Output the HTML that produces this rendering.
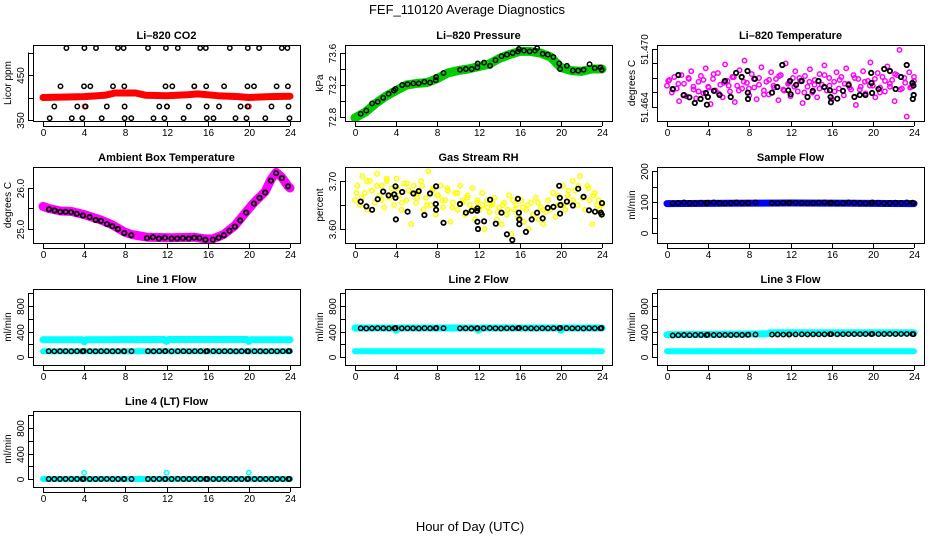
<!DOCTYPE html>
<html><head><meta charset="utf-8"><style>
html,body{margin:0;padding:0;background:#fff;}
svg{display:block;font-family:"Liberation Sans",sans-serif;}
</style></head><body>
<svg id="fig" width="936" height="540" viewBox="0 0 936 540">
<text x="467" y="14" font-size="13" text-anchor="middle">FEF_110120  Average Diagnostics</text>
<text x="470" y="531" font-size="13" text-anchor="middle">Hour of Day (UTC)</text>
</svg>
<script>
// ---------- data ----------
const hourTicks = [0,4,8,12,16,20,24];
const blkTimes = [0.55,1.1,1.65,2.2,2.75,3.3,3.85,3.95,4.55,5.1,5.65,6.2,6.75,7.3,7.85,7.9,8.6,10.2,10.75,11.3,11.85,11.9,12.5,13.1,13.65,14.2,14.75,15.3,15.85,15.95,16.55,17.1,17.65,18.2,18.75,19.3,19.85,19.95,20.55,21.1,21.65,22.2,22.75,23.3,23.85,23.95];

// CO2
const co2BandT = [0,4,6,7,9,10,12,14,15,17,19,20,22,24];
const co2BandV = [400,402,405,410,410,405,404,406,408,404,402,400,402,403];
const co2BlkT = [2.27,4.02,5.15,7.28,7.83,10.2,11.94,13.1,15.27,15.82,18.15,19.9,21.0,23.2,23.75,
 1.7,3.98,4.6,6.8,7.9,11.9,12.56,14.7,15.86,17.6,19.87,20.5,22.7,23.8,
 1.1,3.33,4.14,6.2,7.93,11.3,12.04,14.17,15.9,17.1,19.2,19.87,22.2,23.85,
 0.65,2.8,3.82,5.7,7.93,8.58,10.74,11.8,13.66,15.92,16.57,18.7,19.77,21.6,23.95];
const co2BlkV = [510,510,510,510,510,510,510,510,510,510,510,510,510,510,510,
 425,425,425,425,425,425,425,425,425,425,425,425,425,425,
 380,380,380,380,380,380,380,380,380,380,380,380,380,380,
 354,354,354,354,354,354,354,354,354,354,354,354,354,354,354];
const co2RedT = [4.05,12.05,20.0,14.7];
const co2RedV = [380,380,380,425];

// Pressure
const presBandT = [0,1,2,3,4,5,6,7,8,9,10,11,12,13,14,15,16,17,18,19,20,21,22,23,24];
const presBandV = [72.79,72.86,72.97,73.06,73.13,73.2,73.22,73.23,73.28,73.35,73.38,73.4,73.43,73.46,73.53,73.58,73.62,73.62,73.6,73.55,73.42,73.38,73.37,73.4,73.4];
const presBlkT = [0.55,1.11,1.66,2.21,2.74,3.26,3.78,3.94,4.59,5.11,5.67,6.19,6.74,7.30,7.85,7.88,8.60,10.2,10.78,11.34,11.89,11.92,12.54,13.13,13.65,14.23,14.76,15.31,15.83,15.93,16.42,16.97,17.49,17.69,18.24,18.73,19.28,19.84,19.93,20.59,21.17,21.69,22.21,22.80,23.29,23.84,23.97];
const presBlkV = [72.84,72.88,72.97,72.99,73.04,73.09,73.13,73.15,73.20,73.21,73.22,73.22,73.24,73.23,73.26,73.30,73.35,73.39,73.40,73.40,73.42,73.47,73.48,73.44,73.51,73.56,73.58,73.60,73.62,73.65,73.63,73.62,73.63,73.66,73.59,73.58,73.55,73.47,73.40,73.44,73.38,73.38,73.39,73.46,73.41,73.42,73.39];

// Li-820 temperature
const tempMag = [51.4662,51.4668,51.4655,51.4671,51.4659,51.4646,51.4673,51.4664,51.4651,51.4669,51.4677,51.4658,51.4649,51.4666,51.4672,51.4654,51.4680,51.4661,51.4643,51.4669,51.4657,51.4675,51.4663,51.4650,51.4684,51.4667,51.4656,51.4671,51.4645,51.4662,51.4678,51.4659,51.4688,51.4665,51.4652,51.4674,51.4660,51.4648,51.4670,51.4681,51.4657,51.4666,51.4653,51.4676,51.4662,51.4669,51.4647,51.4673,51.4658,51.4685,51.4664,51.4651,51.4670,51.4677,51.4656,51.4667,51.4644,51.4672,51.4661,51.4679,51.4655,51.4668,51.4650,51.4674,51.4663,51.4683,51.4657,51.4670,51.4648,51.4666,51.4676,51.4659,51.4671,51.4652,51.4680,51.4664,51.4658,51.4673,51.4642,51.4669,51.4661,51.4677,51.4654,51.4667,51.4686,51.4662,51.4650,51.4675,51.4660,51.4671,51.4656,51.4682,51.4664,51.4668,51.4646,51.4673,51.4699,51.4659,51.4670,51.4630,51.4676,51.4661,51.4667];
const tempMag2 = [51.4667,51.4658,51.4664,51.4652,51.4670,51.4661,51.4656,51.4668,51.4660,51.4674,51.4654,51.4665,51.4662,51.4671,51.4657,51.4666,51.4659,51.4669,51.4663,51.4653,51.4668,51.4660,51.4672,51.4657,51.4665,51.4661,51.4670,51.4655,51.4666,51.4663,51.4659,51.4673,51.4662,51.4656,51.4668,51.4664,51.4660,51.4670,51.4658,51.4666,51.4662,51.4669,51.4655,51.4667,51.4661,51.4674,51.4658,51.4665,51.4660,51.4671];
const tempBlkT = [0.55,1.11,1.63,2.18,2.70,3.26,3.78,3.88,3.97,4.56,5.11,5.63,6.19,6.71,7.26,7.82,7.85,7.87,8.53,10.2,10.72,11.2,11.79,11.95,12.02,12.54,13.09,13.65,14.17,14.72,15.28,15.83,15.9,15.93,16.55,17.1,17.65,18.21,18.73,19.28,19.84,19.87,19.93,20.55,21.1,21.66,22.21,22.74,23.29,23.84,23.88,23.97,23.94];
const tempBlkV = [51.46586,51.46731,51.46524,51.46500,51.46441,51.46483,51.46545,51.46424,51.46503,51.46566,51.46524,51.46669,51.46503,51.46752,51.46710,51.46772,51.46548,51.46483,51.46690,51.46548,51.46607,51.46834,51.46572,51.46669,51.46531,51.46628,51.46669,51.46503,51.46566,51.46669,51.46607,51.46572,51.46503,51.46448,51.46486,51.46566,51.46628,51.46503,51.46524,51.46524,51.46752,51.46648,51.46545,51.46586,51.46793,51.46772,51.46586,51.46710,51.46834,51.46648,51.46483,51.46524,51.46621];

// Ambient box temperature
const ambBandT = [0,0.58,1.68,2.72,3.88,4.53,5.63,6.73,7.9,8.58,10.1,12.49,14.69,15.79,16.5,17.57,18.64,19.74,20.49,21.59,22.14,22.65,23.2,23.82,24];
const ambBandV = [25.55,25.5,25.44,25.43,25.36,25.31,25.22,25.1,24.93,24.87,24.8,24.79,24.8,24.76,24.76,24.87,25.08,25.42,25.64,25.91,26.2,26.38,26.26,26.04,26.0];
const ambBlkT = [0.58,1.13,1.68,2.2,2.72,3.27,3.88,4.53,5.11,5.63,6.21,6.73,7.28,7.9,8.58,10.1,10.68,11.26,11.84,12.49,13.04,13.59,14.17,14.69,15.21,15.79,16.5,17.06,17.57,18.12,18.64,19.16,19.74,20.49,21.04,21.59,22.14,22.65,23.2,23.82];
const ambBlkV = [25.48,25.45,25.42,25.42,25.41,25.37,25.33,25.29,25.22,25.2,25.12,25.07,25.0,24.9,24.85,24.78,24.8,24.77,24.79,24.77,24.77,24.78,24.77,24.79,24.78,24.74,24.74,24.79,24.85,24.96,25.06,25.21,25.4,25.62,25.76,25.89,26.18,26.36,26.24,26.04];

// Gas stream RH
const rhYel = [3.660,3.690,3.650,3.710,3.675,3.640,3.700,3.680,3.655,3.715,3.670,3.690,3.645,3.700,3.665,3.685,3.650,3.705,3.670,3.640,3.695,3.660,3.680,3.610,3.690,3.655,3.675,3.700,3.640,3.665,3.720,3.650,3.685,3.630,3.670,3.690,3.645,3.660,3.680,3.615,3.655,3.675,3.640,3.690,3.660,3.630,3.670,3.650,3.685,3.620,3.655,3.640,3.675,3.600,3.660,3.635,3.650,3.665,3.620,3.645,3.610,3.655,3.630,3.670,3.590,3.640,3.650,3.625,3.660,3.615,3.640,3.600,3.655,3.630,3.665,3.620,3.645,3.610,3.635,3.660,3.640,3.675,3.625,3.650,3.665,3.690,3.640,3.670,3.655,3.700,3.680,3.650,3.710,3.665,3.640,3.690,3.660,3.610,3.675,3.650,3.640,3.630];
const rhYel2 = [3.675,3.665,3.700,3.680,3.690,3.660,3.705,3.670,3.685,3.655,3.695,3.675,3.665,3.690,3.650,3.680,3.670,3.660,3.685,3.645,3.675,3.655,3.665,3.640,3.660,3.650,3.645,3.655,3.635,3.650,3.640,3.660,3.625,3.645,3.650,3.630,3.655,3.640,3.660,3.645,3.670,3.650,3.680,3.660,3.690,3.665,3.685,3.670,3.660,3.650];
const rhBlkT = [0.55,1.11,1.66,2.21,2.74,3.26,3.81,3.94,3.94,3.97,4.59,5.11,5.67,6.19,6.74,7.30,7.85,7.88,7.88,8.60,10.2,10.78,11.34,11.86,11.89,11.89,11.95,12.54,13.13,13.68,14.23,14.76,15.28,15.83,15.93,15.96,15.96,16.61,17.17,17.69,18.24,18.73,19.28,19.84,19.90,19.93,19.97,20.59,21.17,21.69,22.21,22.74,23.32,23.88,23.97,24.0];
const rhBlkV = [3.657,3.647,3.640,3.662,3.678,3.670,3.672,3.665,3.689,3.620,3.677,3.636,3.674,3.679,3.629,3.674,3.652,3.640,3.689,3.613,3.652,3.634,3.638,3.638,3.643,3.615,3.600,3.616,3.661,3.611,3.634,3.589,3.577,3.663,3.634,3.620,3.610,3.594,3.620,3.634,3.622,3.644,3.646,3.690,3.665,3.632,3.650,3.657,3.649,3.684,3.667,3.639,3.636,3.634,3.630,3.654];

// Sample flow
const sampBandT = [0,6,12,18,24];
const sampBandV = [95,96,97,96,95];
const sampBlk = [96,97,99,97,96,98,97,98,99,97,96,97,99,97,98,97,99,97,96,98,97,99,98,97,96,97,98,99,97,98,96,97,99,98,97,96,97,99,98,96,97,98,97,99,98,96];

// Line flows
const l1UpT = [0,3.8,4,4.2,11.8,12,12.2,19.8,20,20.2,24];
const l1UpV = [270,270,240,270,275,245,275,275,245,272,272];
const l1LoT = [0,24];
const l1LoV = [90,90];
const l1Blk = [92,90,91,92,90,91,90,93,91,90,92,91,90,91,92,90,91,91,90,92,91,93,90,91,92,90,91,92,90,93,91,90,92,91,90,91,92,90,91,92,90,91,90,92,91,93];
const l2UpT = [0,3.8,4,4.2,11.8,12,12.2,19.8,20,20.2,24];
const l2UpV = [455,455,420,455,455,420,455,455,420,455,455];
const l2LoT = [0,24];
const l2LoV = [90,90];
const l2Blk = [450,448,450,452,450,449,451,455,450,451,450,449,452,450,451,455,452,451,450,449,452,450,451,453,450,449,452,451,452,455,450,451,449,452,450,451,450,455,452,450,451,449,452,450,451,455];
const l3UpT = [0,9.8,10,24];
const l3UpV = [350,365,380,380];
const l3LoT = [0,24];
const l3LoV = [90,90];
const l3Blk = [340,342,345,343,345,346,344,350,345,346,347,345,348,346,349,350,352,352,353,352,354,355,355,356,355,356,357,356,358,360,357,358,359,360,359,361,360,362,360,361,362,361,363,362,360,358];
const l4BandT = [0,24];
const l4BandV = [0,0];
const l4BlipT = [4,12,20];
const l4BlipV = [100,100,100];
const l4Blk = [0,1,0,2,0,1,0,3,0,1,0,2,1,0,1,2,0,1,0,2,1,0,1,3,0,1,0,2,1,0,1,0,2,1,0,1,0,3,1,0,2,1,0,1,0,2];

// ---------- drawing ----------
const NS = "http://www.w3.org/2000/svg";
const svg = document.getElementById('fig');
function mk(tag, parent){ const e=document.createElementNS(NS,tag); parent.appendChild(e); return e; }

function makePanel(o){
  const g = mk('g', svg);
  
  
  const L=o.left, T=o.top, W=267, H=76, B=T+H;
  const fx = t => L + 10 + t * (247/24);
  const fy = v => B - (v - o.ymin) / (o.ymax - o.ymin) * H;
  const clip = mk('clipPath', g); clip.setAttribute('id','clip-'+o.name);
  const cr = mk('rect', clip); cr.setAttribute('x',L); cr.setAttribute('y',T); cr.setAttribute('width',W); cr.setAttribute('height',H);
  const plot = mk('g', g); plot.setAttribute('clip-path','url(#clip-'+o.name+')');
  
  
  const tt = mk('text', g);
  tt.setAttribute('x', L + W/2); tt.setAttribute('y', T - 6);
  tt.setAttribute('font-size','11'); tt.setAttribute('font-weight','bold'); tt.setAttribute('text-anchor','middle');
  tt.textContent = o.title;
  
  
  const box = mk('rect', g);
  box.setAttribute('x',L+0.5); box.setAttribute('y',T+0.5); box.setAttribute('width',W); box.setAttribute('height',H);
  box.setAttribute('fill','none'); box.setAttribute('stroke','#000');
  
  
  hourTicks.forEach(h => {
    const x = Math.round(fx(h))+0.5;
    const ln = mk('line', g); ln.setAttribute('x1',x); ln.setAttribute('x2',x); ln.setAttribute('y1',B+1); ln.setAttribute('y2',B+5); ln.setAttribute('stroke','#000');
    const tx = mk('text', g); tx.setAttribute('x',x); tx.setAttribute('y',B+15); tx.setAttribute('font-size','10'); tx.setAttribute('text-anchor','middle');
    tx.textContent = h;
    
    
  });
  const xl = mk('line', g); xl.setAttribute('x1',fx(0)); xl.setAttribute('x2',fx(24)); xl.setAttribute('y1',B+5.5); xl.setAttribute('y2',B+5.5); xl.setAttribute('stroke','#000');
  o.yticks.forEach((v,i) => {
    const y = Math.round(fy(v))+0.5;
    const ln = mk('line', g); ln.setAttribute('x1',L-5); ln.setAttribute('x2',L); ln.setAttribute('y1',y); ln.setAttribute('y2',y); ln.setAttribute('stroke','#000');
    const lab = o.ylabels[i];
    if (lab) {
      const tx = mk('text', g);
      tx.setAttribute('transform','translate('+(L-9)+','+y+') rotate(-90)');
      tx.setAttribute('font-size','10'); tx.setAttribute('text-anchor','middle');
      tx.textContent = lab;
      
      
    }
  });
  const y0 = fy(o.yticks[0]), y1 = fy(o.yticks[o.yticks.length-1]);
  const yl = mk('line', g); yl.setAttribute('x1',L-4.5); yl.setAttribute('x2',L-4.5); yl.setAttribute('y1',y0); yl.setAttribute('y2',y1); yl.setAttribute('stroke','#000');
  const yt = mk('text', g);
  yt.setAttribute('transform','translate('+(L-22)+','+(T+H/2)+') rotate(-90)');
  yt.setAttribute('font-size','10'); yt.setAttribute('text-anchor','middle');
  yt.textContent = o.ylab;
  
  

  function band(ts, vs, color, w, nm){
    const p = mk('polyline', plot);
    p.setAttribute('points', ts.map((t,i)=>fx(t).toFixed(1)+','+fy(vs[i]).toFixed(1)).join(' '));
    p.setAttribute('fill','none'); p.setAttribute('stroke',color); p.setAttribute('stroke-width',w);
    p.setAttribute('stroke-linejoin','round'); p.setAttribute('stroke-linecap','round');
    
    
  }
  function pts(ts, vs, color, nm, sw){
    ts.forEach((t,i)=>{
      const c = mk('circle', plot);
      c.setAttribute('cx', fx(t).toFixed(1)); c.setAttribute('cy', fy(vs[i]).toFixed(1)); c.setAttribute('r', 2.2);
      c.setAttribute('fill','none'); c.setAttribute('stroke',color); c.setAttribute('stroke-width', sw||1.5);
      
      
    });
  }
  function spread(arr){ return arr.map((v,i)=> i*24/(arr.length-1)); }
  return {band, pts, spread};
}

const colL = [33,345,657], rowT = [45,167,289,411];
const flowTicks = [0,200,400,600,800,1000], flowLabs = ['0','','400','','800',''];

let p = makePanel({name:'co2', title:'Li\u2013820 CO2', ylab:'Licor ppm', left:colL[0], top:rowT[0], ymin:347.8, ymax:516.7, yticks:[350,400,450,500], ylabels:['350','','450','']});
p.band(co2BandT, co2BandV, '#ff0000', 7, 'co2-band');
p.pts(co2RedT, co2RedV, '#ff0000', 'co2-red-point');
p.pts(co2BlkT, co2BlkV, '#000', 'co2-hourly-point');

p = makePanel({name:'pressure', title:'Li\u2013820 Pressure', ylab:'kPa', left:colL[1], top:rowT[0], ymin:72.75, ymax:73.7, yticks:[72.8,73.0,73.2,73.4,73.6], ylabels:['72.8','','73.2','','73.6']});
p.band(presBandT, presBandV, '#00cc00', 9, 'pressure-band');
p.pts(presBlkT, presBlkV, '#000', 'pressure-hourly-point');

p = makePanel({name:'li820-temp', title:'Li\u2013820 Temperature', ylab:'degrees C', left:colL[2], top:rowT[0], ymin:51.46255, ymax:51.47041, yticks:[51.464,51.4655,51.467,51.4685,51.470], ylabels:['51.464','','','','51.470']});
p.pts(p.spread(tempMag), tempMag, '#ff00ff', 'li820-temp-point');
p.pts(p.spread(tempMag2).map(t=>Math.min(24,t+0.12)), tempMag2, '#ff00ff', 'li820-temp-point');
p.pts(tempBlkT, tempBlkV, '#000', 'li820-temp-hourly-point', 1.8);

p = makePanel({name:'ambient-temp', title:'Ambient Box Temperature', ylab:'degrees C', left:colL[0], top:rowT[1], ymin:24.66, ymax:26.51, yticks:[25.0,25.5,26.0], ylabels:['25.0','','26.0']});
p.band(ambBandT, ambBandV, '#ff00ff', 9, 'ambient-band');
p.pts(ambBlkT, ambBlkV, '#000', 'ambient-hourly-point', 1.8);

p = makePanel({name:'gas-rh', title:'Gas Stream RH', ylab:'percent', left:colL[1], top:rowT[1], ymin:3.5708, ymax:3.7292, yticks:[3.60,3.65,3.70], ylabels:['3.60','','3.70']});
p.pts(p.spread(rhYel), rhYel, '#ffff00', 'rh-point');
p.pts(p.spread(rhYel2).map(t=>Math.min(24,t+0.15)), rhYel2, '#ffff00', 'rh-point');
p.pts(rhBlkT, rhBlkV, '#000', 'rh-hourly-point', 1.8);

p = makePanel({name:'sample-flow', title:'Sample Flow', ylab:'ml/min', left:colL[2], top:rowT[1], ymin:-32, ymax:213, yticks:[0,50,100,150,200], ylabels:['0','','100','','200']});
p.band(sampBandT, sampBandV, '#0000ff', 7, 'sample-flow-band');
p.pts(blkTimes, sampBlk, '#000', 'sample-flow-hourly-point');

p = makePanel({name:'line1-flow', title:'Line 1 Flow', ylab:'ml/min', left:colL[0], top:rowT[2], ymin:-125, ymax:1067, yticks:flowTicks, ylabels:flowLabs});
p.band(l1UpT, l1UpV, '#00ffff', 7, 'line1-upper-band');
p.band(l1LoT, l1LoV, '#00ffff', 6, 'line1-lower-band');
p.pts(blkTimes, l1Blk, '#000', 'line1-hourly-point');

p = makePanel({name:'line2-flow', title:'Line 2 Flow', ylab:'ml/min', left:colL[1], top:rowT[2], ymin:-125, ymax:1067, yticks:flowTicks, ylabels:flowLabs});
p.band(l2UpT, l2UpV, '#00ffff', 7, 'line2-upper-band');
p.band(l2LoT, l2LoV, '#00ffff', 6, 'line2-lower-band');
p.pts(blkTimes, l2Blk, '#000', 'line2-hourly-point');

p = makePanel({name:'line3-flow', title:'Line 3 Flow', ylab:'ml/min', left:colL[2], top:rowT[2], ymin:-125, ymax:1067, yticks:flowTicks, ylabels:flowLabs});
p.band(l3UpT, l3UpV, '#00ffff', 7, 'line3-upper-band');
p.band(l3LoT, l3LoV, '#00ffff', 6, 'line3-lower-band');
p.pts(blkTimes, l3Blk, '#000', 'line3-hourly-point');

p = makePanel({name:'line4-flow', title:'Line 4 (LT) Flow', ylab:'ml/min', left:colL[0], top:rowT[3], ymin:-125, ymax:1067, yticks:flowTicks, ylabels:flowLabs});
p.band(l4BandT, l4BandV, '#00ffff', 6, 'line4-band');
p.pts(l4BlipT, l4BlipV, '#00ffff', 'line4-blip-point');
p.pts(blkTimes, l4Blk, '#000', 'line4-hourly-point');
</script>
</body></html>
